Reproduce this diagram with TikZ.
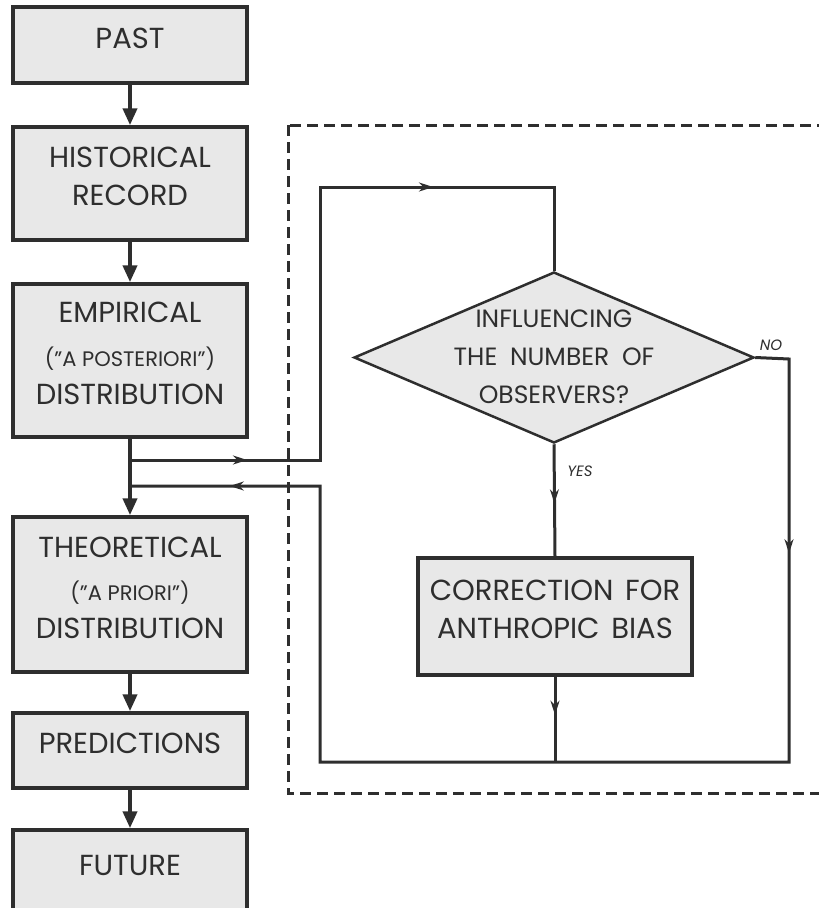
\documentclass[tikz,border=0pt]{standalone}
\usepackage{fontspec}
\setmainfont{Poppins}
\usetikzlibrary{shapes.geometric,arrows.meta,decorations.markings}
\definecolor{boxgray}{HTML}{E8E8E8}
\definecolor{ink}{HTML}{2E2E2E}
\newcommand{\asidetext}[1]{{\fontsize{21}{24}\selectfont #1}}
\begin{document}
\begin{tikzpicture}[x=1pt,y=-1pt,
    stage/.style={draw=ink,fill=boxgray,line width=3.5pt,inner sep=0pt,
        minimum width=234pt,align=center,text=ink,text depth=14pt,
        font=\fontsize{29}{38}\selectfont},
    main/.style={draw=ink,line width=4pt,-{Triangle[length=17pt,width=14pt]}},
    flow/.style={draw=ink,line width=3pt},
    tipat/.style={postaction={decorate},decoration={markings,
        mark=at position #1 with {\arrow{Stealth[length=14pt,width=9pt]}}}},
    tipsat/.style 2 args={postaction={decorate},decoration={markings,
        mark=at position #1 with {\arrow{Stealth[length=14pt,width=9pt]}},
        mark=at position #2 with {\arrow{Stealth[length=14pt,width=9pt]}}}},
    frame/.style={draw=ink,line width=3pt,dash pattern=on 11pt off 6pt},
    tag/.style={text=ink,font=\fontsize{15}{18}\selectfont\itshape}]
    \useasboundingbox (0,0) rectangle (819,908);

    \draw[frame] (288,125) rectangle (825,793);

    \node[stage,minimum height=76pt] (past) at (130,45) {PAST};
    \node[stage,minimum height=113pt] (hist) at (130,183.5)
        {HISTORICAL\\RECORD};
    \node[stage,minimum height=153pt] (emp) at (130,360.5)
        {EMPIRICAL\\[6pt]\asidetext{("A POSTERIORI")}\\DISTRIBUTION};
    \node[stage,minimum height=155pt] (theo) at (130,594.5)
        {THEORETICAL\\[5pt]\asidetext{("A PRIORI")}\\DISTRIBUTION};
    \node[stage,minimum height=75pt] (pred) at (130,750.5) {PREDICTIONS};
    \node[stage,minimum height=84pt] (fut) at (130,872) {FUTURE};

    \node[diamond,draw=ink,fill=boxgray,line width=2.5pt,inner sep=0pt,
        minimum width=400pt,minimum height=171pt] (ask) at (554,357.5) {};
    \node[align=center,text=ink,font=\fontsize{25}{38}\selectfont,yshift=1pt]
        (askt) at (ask.center)
        {INFLUENCING\\THE\hspace{6pt} NUMBER\hspace{6pt} OF\\OBSERVERS?};
    \node[stage,minimum width=274pt,minimum height=117pt] (corr) at (555,616.5)
        {CORRECTION\hspace{4pt} FOR\\ANTHROPIC\hspace{4pt} BIAS};

    \coordinate (split) at (130,460);
    \coordinate (merge) at (130,486);
    \coordinate (upL) at (320,187);
    \coordinate (noR) at (789,359);
    \coordinate (botR) at (789,762);
    \coordinate (botL) at (320,762);

    \draw[main] (past) -- (hist);
    \draw[main] (hist) -- (emp);
    \draw[main] (emp) -- (theo);
    \draw[main] (theo) -- (pred);
    \draw[main] (pred) -- (fut);

    \draw[flow,tipsat={117pt}{576pt}] (split) -| (upL) -| (ask.north);
    \draw[flow,tipat=59pt] (ask.south) -- (corr.north);
    \draw[flow,tipat=38pt] (corr.south) -- (corr.south |- botL);
    \draw[flow,tipsat={228pt}{1272pt}] (ask.east) -- (noR) -- (botR)
        -- (botL) |- (merge);

    \node[tag] (yes) at (580,471) {YES};
    \node[tag] (no) at (771,345) {NO};
\end{tikzpicture}
\end{document}
